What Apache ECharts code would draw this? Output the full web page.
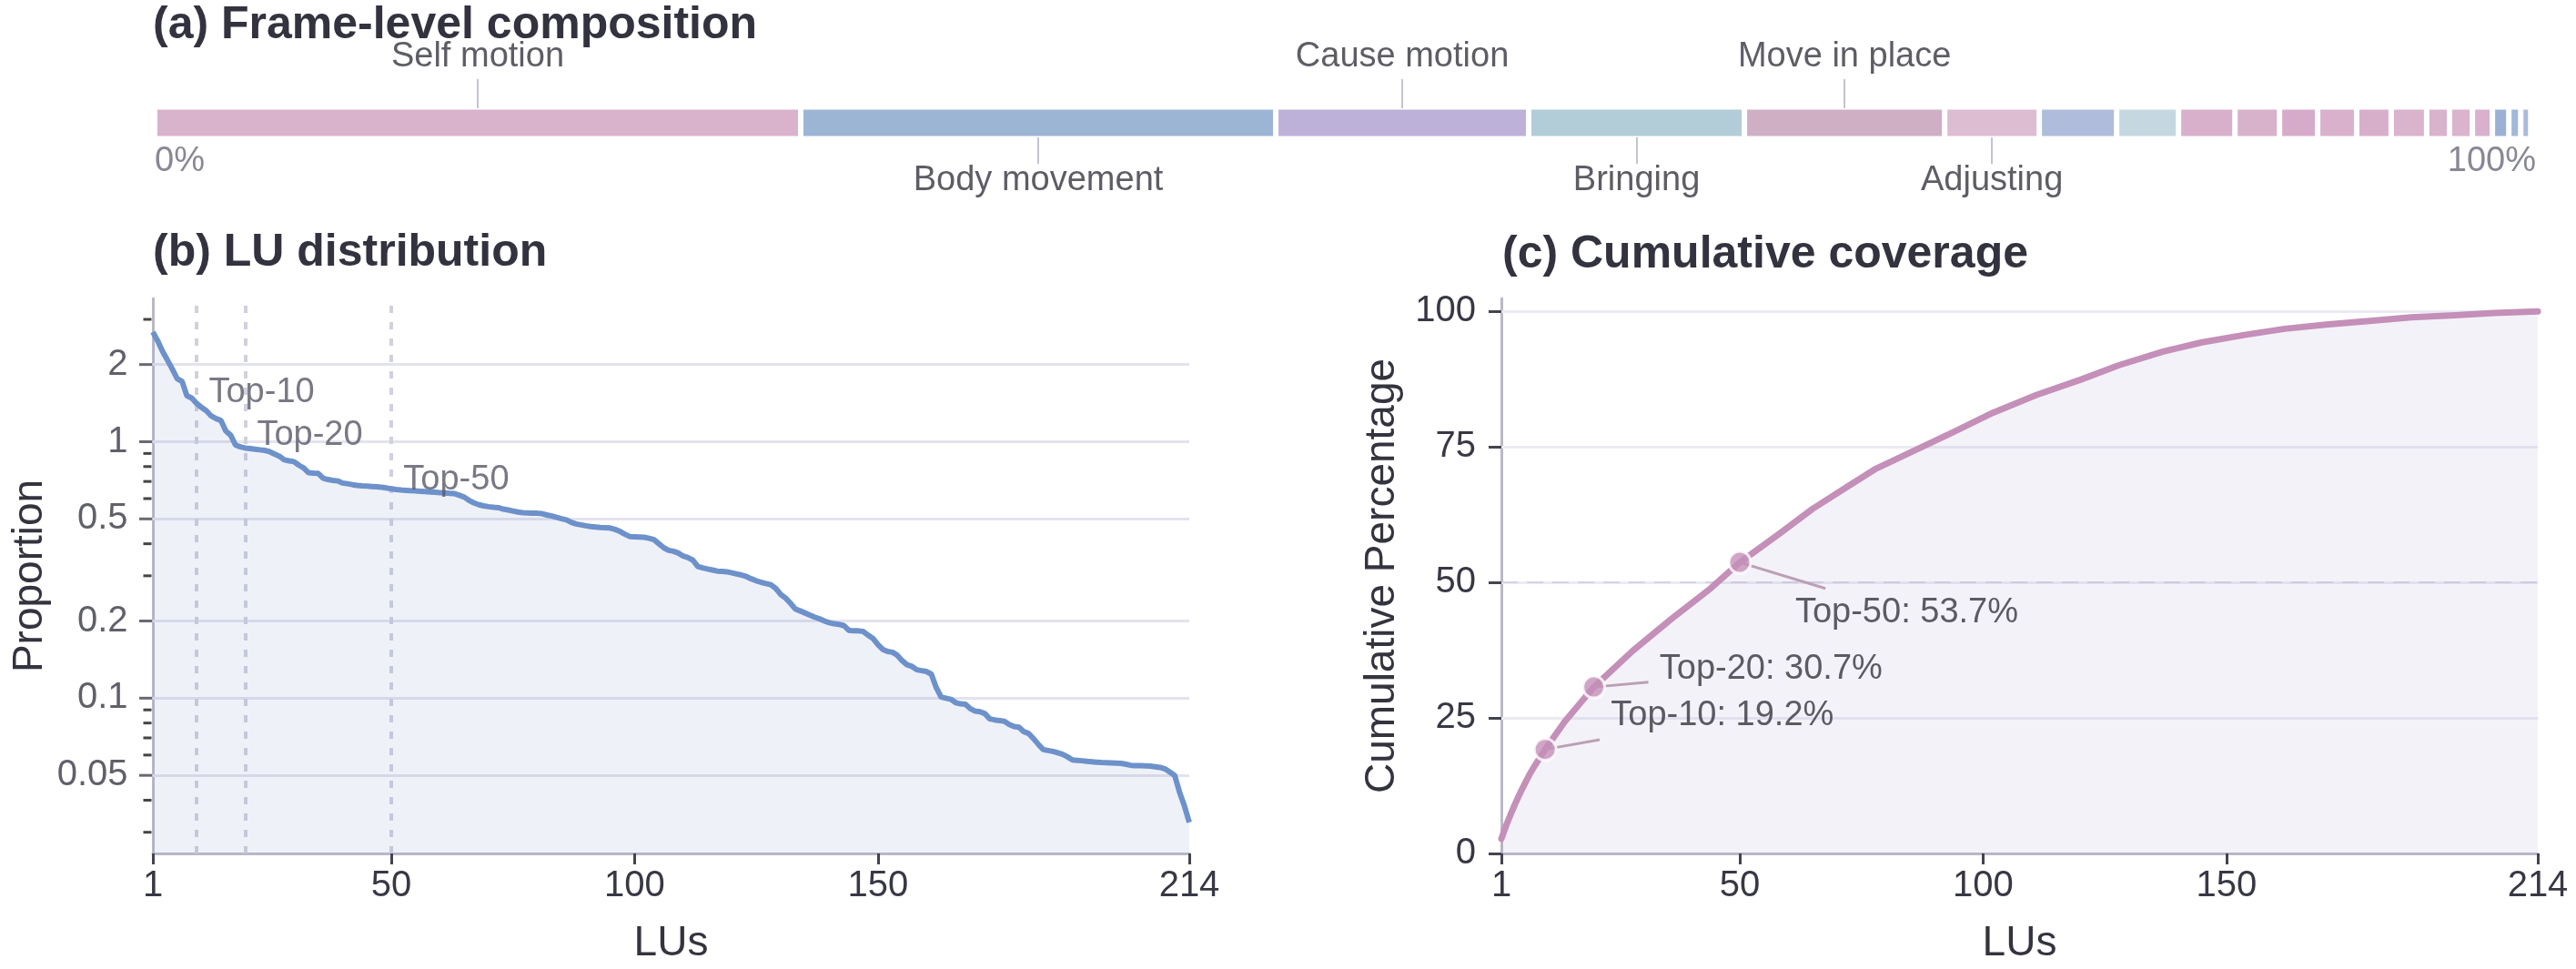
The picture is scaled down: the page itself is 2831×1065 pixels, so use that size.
<!DOCTYPE html>
<html>
<head>
<meta charset="utf-8">
<title>Frame and LU coverage</title>
<script src="https://cdn.jsdelivr.net/npm/echarts@6/dist/echarts.min.js"></script>
<style>
  html, body { margin: 0; padding: 0; background: #ffffff; }
  #chart { width: 2831px; height: 1065px; }
</style>
</head>
<body>
<div id="chart"></div>
<script>
// (a) share of frames (%) per frame, in bar order
const frameShares = [27.13, 19.95, 10.62, 9.06, 8.41, 3.97, 3.25, 2.60, 2.37, 1.87, 1.60,
  1.64, 1.45, 1.49, 0.96, 0.96, 0.84, 0.69, 0.50, 0.42, 0.23];
// names of the first segments (the rest are unlabelled)
const frameNames = ['Self motion', 'Body movement', 'Cause motion', 'Bringing', 'Move in place', 'Adjusting'];

// (b) proportion (%) of each LU, ranked
const luProportion = [
  2.68, 2.47, 2.25, 2.08, 1.92, 1.76, 1.72, 1.51, 1.48, 1.41,
  1.36, 1.32, 1.26, 1.23, 1.21, 1.10, 1.06, 0.97, 0.955, 0.945,
  0.94, 0.935, 0.93, 0.925, 0.914, 0.895, 0.878, 0.85, 0.842, 0.836,
  0.81, 0.79, 0.757, 0.754, 0.752, 0.72, 0.712, 0.707, 0.703, 0.69,
  0.686, 0.68, 0.676, 0.673, 0.671, 0.669, 0.667, 0.664, 0.66, 0.655,
  0.651, 0.648, 0.646, 0.644, 0.643, 0.641, 0.639, 0.637, 0.635, 0.633,
  0.631, 0.629, 0.627, 0.618, 0.608, 0.59, 0.577, 0.568, 0.562, 0.558,
  0.555, 0.553, 0.546, 0.542, 0.537, 0.532, 0.529, 0.528, 0.527, 0.526,
  0.524, 0.518, 0.513, 0.507, 0.501, 0.496, 0.485, 0.478, 0.474, 0.47,
  0.467, 0.465, 0.463, 0.462, 0.461, 0.455, 0.447, 0.436, 0.427, 0.426,
  0.425, 0.424, 0.42, 0.415, 0.4, 0.386, 0.377, 0.374, 0.368, 0.358,
  0.353, 0.345, 0.326, 0.322, 0.319, 0.316, 0.313, 0.312, 0.311, 0.308,
  0.305, 0.302, 0.298, 0.292, 0.287, 0.283, 0.28, 0.277, 0.268, 0.254,
  0.246, 0.235, 0.223, 0.219, 0.215, 0.211, 0.207, 0.204, 0.2, 0.197,
  0.195, 0.194, 0.192, 0.184, 0.183, 0.183, 0.182, 0.176, 0.171, 0.162,
  0.155, 0.152, 0.151, 0.147, 0.14, 0.135, 0.133, 0.129, 0.128, 0.127,
  0.124, 0.11, 0.101, 0.1, 0.099, 0.096, 0.095, 0.0947, 0.091, 0.089,
  0.0885, 0.087, 0.083, 0.0823, 0.0818, 0.0812, 0.079, 0.0775, 0.077, 0.074,
  0.0728, 0.0695, 0.066, 0.063, 0.0625, 0.062, 0.0612, 0.0604, 0.059, 0.0574,
  0.0572, 0.057, 0.0567, 0.0565, 0.0563, 0.0561, 0.056, 0.0559, 0.0558, 0.0557,
  0.0552, 0.0547, 0.0546, 0.0545, 0.0544, 0.0543, 0.054, 0.0537, 0.053, 0.0515,
  0.05, 0.043, 0.038, 0.0328
];

// (c) cumulative coverage (%)
const coverageLU = [1, 2, 3, 4, 5, 6, 7, 8, 10, 14, 20, 28, 36, 44, 50, 58, 65, 72, 78, 86,
  94, 102, 111, 120, 128, 137, 145, 154, 162, 171, 180, 188, 197, 205, 214];
const coverageValue = [2.7, 5.2, 7.4, 9.5, 11.4, 13.2, 14.9, 16.4, 19.2, 24.3, 30.7, 37.4, 43.3, 48.9, 53.7,
  58.9, 63.6, 67.6, 71.0, 74.4, 77.8, 81.3, 84.6, 87.4, 90.1, 92.6, 94.3, 95.7, 96.8, 97.6,
  98.3, 98.9, 99.3, 99.7, 100.0];

const topK = [10, 20, 50];
const topKCoverage = [19.2, 30.7, 53.7];

// tick labels
const luTicks = [1, 50, 100, 150, 214];
const propTicks = [2, 1, 0.5, 0.2, 0.1, 0.05];
const propMinorTicks = [3, 0.9, 0.8, 0.7, 0.6, 0.4, 0.3, 0.09, 0.08, 0.07, 0.06, 0.04, 0.03];
const coverageTicks = [0, 25, 50, 75, 100];

// ---- styles and placement ----
const FONT = '"Liberation Sans", Arial, Helvetica, sans-serif';
const INK = '#34343f';
const AXIS_GREY = '#b9b9c6';
const TICK_INK = '#44444f';

const frameColors = ['#d9b2cc', '#9db5d5', '#bdb0d9', '#b2cdd8', '#cfafc4', '#ddbdd1', '#afbcdb',
  '#c5d8e1', '#d8b0cb', '#d8b1cb', '#d6abc9', '#d9b1cc', '#d8afcb', '#dab3cd', '#d9b2cc',
  '#dab3cd', '#d9b1cc', '#9cb0d6', '#a1b8da', '#a6bcdb', '#a3b9da'];

// vertical placement in panel (a), in units of its helper 0..1 axis
const frameLayout = { barTop: 0.584, barBottom: 0.416, lineUp: 0.753, lineDown: 0.263,
  labelUp: 0.879, labelDown: 0.166, pctLabel: 0.274 };

// annotation anchors
const propLabelAt = [[12.4, 1.55], [22.3, 1.056], [52.4, 0.708]];
const covLeaderEnd = [[21.2, 21.0], [31.2, 31.6], [67.6, 48.9]];
const covLabelAt = [[23.4, 25.5], [33.4, 34.0], [61.3, 44.4]];

// ---- derived ----
const frameStarts = [];
frameShares.reduce((acc, v) => { frameStarts.push(acc); return acc + v; }, 0);

const frameLabelData = frameNames.map((name, i) => ({
  name: name,
  value: [frameStarts[i] + frameShares[i] / 2, i % 2 === 0 ? frameLayout.labelUp : frameLayout.labelDown]
}));
const frameLeaders = frameNames.map((name, i) => {
  const cx = frameStarts[i] + frameShares[i] / 2;
  return i % 2 === 0
    ? [{ coord: [cx, frameLayout.barTop] }, { coord: [cx, frameLayout.lineUp] }]
    : [{ coord: [cx, frameLayout.barBottom] }, { coord: [cx, frameLayout.lineDown] }];
});

const propData = luProportion.map((v, i) => [i + 1, v]);
const coverageData = coverageLU.map((k, i) => [k, coverageValue[i]]);
const topKPoints = topK.map((k, i) => [k, topKCoverage[i]]);

const tickLabelStyle = { fontSize: 40, color: '#383845', fontFamily: FONT };
const axisNameStyle = { fontSize: 46, color: INK, fontFamily: FONT };

function luAxis(gridIndex) {
  return {
    gridIndex: gridIndex, type: 'value', min: 1, max: 214,
    axisLine: { show: true, lineStyle: { color: AXIS_GREY, width: 3 } },
    axisTick: { show: true, customValues: luTicks, length: 12, lineStyle: { color: TICK_INK, width: 3 } },
    axisLabel: Object.assign({ customValues: luTicks, margin: 16 }, tickLabelStyle),
    splitLine: { show: false },
    name: 'LUs', nameLocation: 'middle', nameGap: 76, nameTextStyle: axisNameStyle
  };
}

const bars = frameShares.map((v, i) => ({
  type: 'bar', xAxisIndex: 0, yAxisIndex: 0, stack: 'frames', barWidth: 35, silent: true,
  data: [v],
  itemStyle: { color: frameColors[i], borderColor: '#ffffff', borderWidth: 3 }
}));

const option = {
  animation: false,
  backgroundColor: '#ffffff',
  textStyle: { fontFamily: FONT },
  graphic: [
    { type: 'text', x: 168, y: 28, style: { text: '(a) Frame-level composition', font: 'bold 50px ' + FONT,
      fill: '#33333f', textAlign: 'left', textVerticalAlign: 'middle', align: 'left', verticalAlign: 'middle' } },
    { type: 'text', x: 168, y: 278, style: { text: '(b) LU distribution', font: 'bold 50px ' + FONT,
      fill: '#33333f', textAlign: 'left', textVerticalAlign: 'middle', align: 'left', verticalAlign: 'middle' } },
    { type: 'text', x: 1651, y: 280, style: { text: '(c) Cumulative coverage', font: 'bold 50px ' + FONT,
      fill: '#33333f', textAlign: 'left', textVerticalAlign: 'middle', align: 'left', verticalAlign: 'middle' } }
  ],
  grid: [
    { left: 170, right: 44, top: 40, height: 190 },
    { left: 168, width: 1139, top: 328, height: 611 },
    { left: 1650, width: 1139, top: 328, height: 611 }
  ],
  xAxis: [
    { gridIndex: 0, type: 'value', min: 0, max: 100, show: false },
    luAxis(1),
    luAxis(2)
  ],
  yAxis: [
    { gridIndex: 0, type: 'category', data: ['frames'], show: false },
    { gridIndex: 0, type: 'value', min: 0, max: 1, show: false },
    {
      gridIndex: 1, type: 'log', logBase: 10, min: 0.0248, max: 3.62,
      axisLine: { show: true, lineStyle: { color: AXIS_GREY, width: 3 } },
      axisTick: { show: false }, axisLabel: { show: false }, splitLine: { show: false },
      name: 'Proportion', nameLocation: 'middle', nameGap: 112, nameTextStyle: axisNameStyle
    },
    {
      gridIndex: 2, type: 'value', min: 0, max: 102.4,
      axisLine: { show: true, lineStyle: { color: AXIS_GREY, width: 3 } },
      axisTick: { show: true, customValues: coverageTicks, length: 14, lineStyle: { color: TICK_INK, width: 3 } },
      axisLabel: Object.assign({ customValues: coverageTicks, margin: 28 }, tickLabelStyle),
      splitLine: { show: false },
      name: 'Cumulative Percentage', nameLocation: 'middle', nameGap: 108, nameTextStyle: axisNameStyle
    }
  ],
  series: bars.concat([
    // (a) segment names with leader lines
    {
      type: 'scatter', xAxisIndex: 0, yAxisIndex: 1, symbolSize: 1, silent: true, clip: false,
      itemStyle: { color: 'rgba(0,0,0,0)' },
      data: frameLabelData,
      label: { show: true, position: 'inside', formatter: '{b}', fontSize: 38, color: INK, fontFamily: FONT },
      markLine: {
        silent: true, symbol: ['none', 'none'], label: { show: false },
        lineStyle: { color: '#c4c4d0', width: 2, type: 'solid' },
        data: frameLeaders
      }
    },
    // (a) 0% / 100% ends
    {
      type: 'scatter', xAxisIndex: 0, yAxisIndex: 1, symbolSize: 1, silent: true, clip: false,
      itemStyle: { color: 'rgba(0,0,0,0)' },
      data: [
        { value: [0, frameLayout.pctLabel], name: '0%', label: { align: 'left' } },
        { value: [100, frameLayout.pctLabel], name: '100%', label: { align: 'right' } }
      ],
      label: { show: true, position: 'inside', formatter: '{b}', fontSize: 38, color: '#6a6a7a', fontFamily: FONT }
    },

    // (b) grid lines and top-k markers, kept under the curve
    {
      type: 'line', xAxisIndex: 1, yAxisIndex: 2, z: 1, silent: true, symbol: 'none',
      lineStyle: { width: 0 }, data: [[1, 1]],
      markLine: {
        z: 1, silent: true, symbol: ['none', 'none'], label: { show: false },
        data: propTicks.map(v => ({ yAxis: v, lineStyle: { color: '#e3e3ee', width: 3, type: 'solid' } }))
          .concat(topK.map(k => ({ xAxis: k, lineStyle: { color: '#d0d1dd', width: 4, type: [8, 10] } })))
      }
    },
    {
      type: 'line', xAxisIndex: 1, yAxisIndex: 2, z: 2, silent: true, showSymbol: false,
      data: propData,
      lineStyle: { color: '#6d91ca', width: 6 },
      areaStyle: { color: 'rgba(110,130,200,0.16)', origin: 'start' }
    },
    // (b) y ticks and labels on the log axis
    {
      type: 'scatter', xAxisIndex: 1, yAxisIndex: 2, z: 4, silent: true, clip: false,
      symbol: 'rect', symbolSize: [14, 3], symbolOffset: [-8, 0],
      itemStyle: { color: TICK_INK },
      data: propTicks.map(v => [1, v])
    },
    {
      type: 'scatter', xAxisIndex: 1, yAxisIndex: 2, z: 4, silent: true, clip: false,
      symbol: 'rect', symbolSize: [9, 3], symbolOffset: [-6, 0],
      itemStyle: { color: '#161616' },
      data: propMinorTicks.map(v => [1, v])
    },
    {
      type: 'scatter', xAxisIndex: 1, yAxisIndex: 2, z: 4, silent: true, clip: false,
      symbolSize: 1, itemStyle: { color: 'rgba(0,0,0,0)' },
      data: propTicks.map(v => [1, v]),
      label: Object.assign({ show: true, position: 'left', distance: 27, formatter: p => String(p.value[1]) }, tickLabelStyle)
    },
    {
      type: 'scatter', xAxisIndex: 1, yAxisIndex: 2, z: 5, silent: true, clip: false,
      symbolSize: 1, itemStyle: { color: 'rgba(0,0,0,0)' },
      data: propLabelAt.map((p, i) => ({ value: p, name: 'Top-' + topK[i] })),
      label: { show: true, position: 'right', distance: 0, formatter: '{b}', fontSize: 38, color: '#575766', fontFamily: FONT }
    },

    // (c) grid lines, kept under the curve
    {
      type: 'line', xAxisIndex: 2, yAxisIndex: 3, z: 1, silent: true, symbol: 'none',
      lineStyle: { width: 0 }, data: [[1, 50]],
      markLine: {
        z: 1, silent: true, symbol: ['none', 'none'], label: { show: false },
        data: coverageTicks.filter(v => v > 0)
          .map(v => ({ yAxis: v, lineStyle: { color: '#ebebf2', width: 3, type: 'solid' } }))
          .concat([{ yAxis: 50, lineStyle: { color: '#d6d2e3', width: 2, type: [18, 10] } }])
      }
    },
    {
      type: 'line', xAxisIndex: 2, yAxisIndex: 3, z: 2, silent: true, showSymbol: false,
      data: coverageData,
      lineStyle: { color: '#c48fb8', width: 7, join: 'round', cap: 'round' },
      areaStyle: { color: 'rgba(160,140,200,0.16)', origin: 'start' }
    },
    // (c) leader lines and labels
    {
      type: 'scatter', xAxisIndex: 2, yAxisIndex: 3, z: 3, silent: true, clip: false,
      symbolSize: 1, itemStyle: { color: 'rgba(0,0,0,0)' },
      data: covLabelAt.map((p, i) => ({ value: p, name: 'Top-' + topK[i] + ': ' + topKCoverage[i].toFixed(1) + '%' })),
      label: { show: true, position: 'right', distance: 0, formatter: '{b}', fontSize: 38, color: INK, fontFamily: FONT },
      markLine: {
        silent: true, symbol: ['none', 'none'], label: { show: false },
        lineStyle: { color: '#bba0b4', width: 3, type: 'solid' },
        data: topKPoints.map((p, i) => [{ coord: p }, { coord: covLeaderEnd[i] }])
      }
    },
    {
      type: 'scatter', xAxisIndex: 2, yAxisIndex: 3, z: 10, silent: true, clip: false,
      symbolSize: 24,
      itemStyle: { color: '#c48fb8', borderColor: '#ffffff', borderWidth: 3 },
      data: topKPoints
    }
  ])
};

const chart = echarts.init(document.getElementById('chart'));
chart.setOption(option);
</script>
</body>
</html>
